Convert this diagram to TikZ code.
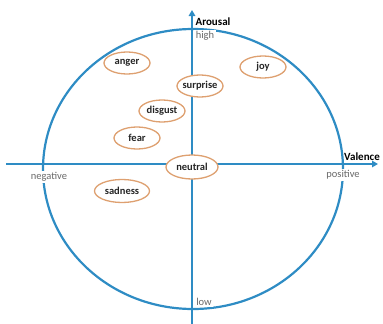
\documentclass[tikz,border=0pt]{standalone}
\usepackage{fontspec}
\setmainfont{Carlito}
\usetikzlibrary{shapes.geometric, arrows.meta}
\definecolor{axisblue}{RGB}{46, 140, 196}
\definecolor{emoorange}{RGB}{222, 160, 112}
\definecolor{labelgray}{RGB}{105, 105, 105}
\tikzset{
  emo/.style     = {ellipse, draw=emoorange, line width=1.3pt, fill=white, minimum width=46pt, minimum height=22pt, inner xsep=-3pt, inner ysep=0pt, text=black!85, font=\bfseries\fontsize{10.5}{12}\selectfont},
  axline/.style  = {axisblue, line width=2.2pt},
  axarrow/.style = {axline, -{Triangle[width=6.5pt, length=6pt]}},
  axname/.style  = {inner sep=1pt, font=\bfseries\fontsize{11}{12}\selectfont},
  axend/.style   = {inner sep=1.5pt, fill=white, text=labelgray, font=\fontsize{10.5}{12}\selectfont},
}

\begin{document}
\begin{tikzpicture}[x=1pt, y=-1pt]
  \useasboundingbox (0,0) rectangle (383,324);

  % circumplex
  \draw[axline] (193,169) ellipse [x radius=150, y radius=140];

  % axes
  \coordinate (hleft) at (6,164);
  \coordinate (hright) at (378,164);
  \coordinate (vbot) at (192,324);
  \coordinate (vtop) at (192,10);
  \draw[axarrow] (hleft) -- (hright);
  \draw[axarrow] (vbot) -- (vtop);

  \node[axname] (arousal) at (213,22) {Arousal};
  \node[axname] (valence) at (362,157) {Valence};
  \node[axend] (high) at (205,36) {high};
  \node[axend] (low) at (204,302) {low};
  \node[axend] (negative) at (49,177) {negative};
  \node[axend] (positive) at (343,175) {positive};

  % emotions
  \node[emo] (anger) at (127,63) {anger};
  \node[emo] (joy) at (263,67) {joy};
  \node[emo] (surprise) at (200,86) {surprise};
  \node[emo] (disgust) at (162,111) {disgust};
  \node[emo] (fear) at (137,138) {fear};
  \node[emo, minimum width=52pt, minimum height=24pt] (neutral) at (192,167) {neutral};
  \node[emo, minimum width=55pt, minimum height=23pt] (sadness) at (122,191) {sadness};
\end{tikzpicture}
\end{document}
